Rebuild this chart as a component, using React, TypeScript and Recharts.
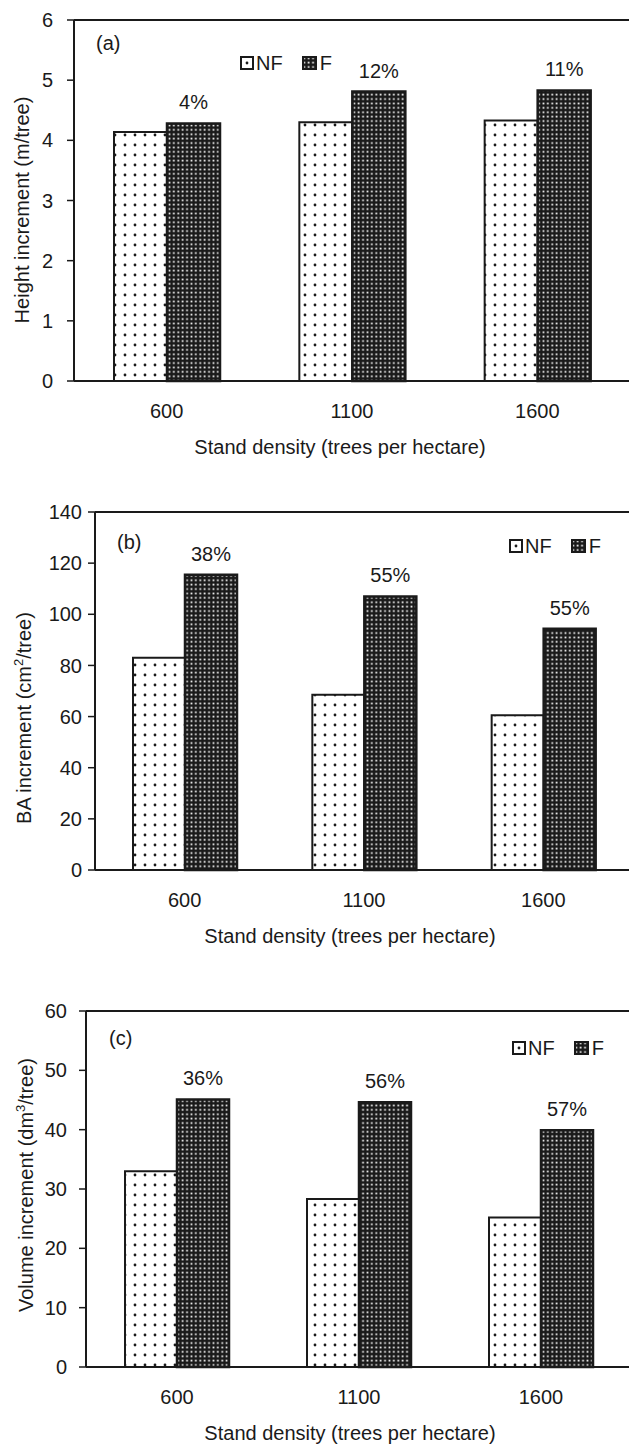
import React from 'react';
import { BarChart, Bar, XAxis, YAxis, ReferenceLine, LabelList } from 'recharts';

const densities = ['600', '1100', '1600'];

// (a) height increment, m/tree
const heightNF = [4.14, 4.3, 4.33];
const heightF = [4.28, 4.81, 4.83];
const heightPct = ['4%', '12%', '11%'];
const heightTicks = [0, 1, 2, 3, 4, 5, 6];

// (b) basal area increment, cm2/tree
const baNF = [83, 68.5, 60.5];
const baF = [115.5, 107, 94.3];
const baPct = ['38%', '55%', '55%'];
const baTicks = [0, 20, 40, 60, 80, 100, 120, 140];

// (c) volume increment, dm3/tree
const volNF = [33, 28.3, 25.2];
const volF = [45.1, 44.6, 39.9];
const volPct = ['36%', '56%', '57%'];
const volTicks = [0, 10, 20, 30, 40, 50, 60];

const FONT = '"Liberation Sans", Arial, sans-serif';
const INK = '#1a1a1a';

const buildRows = (nf: number[], f: number[], pct: string[]) =>
  densities.map((d, i) => ({ density: d, nf: nf[i], f: f[i], pct: pct[i] }));

// hatch patterns used by bars and legend swatches
const PatternDefs = () => (
  <svg width={0} height={0} style={{ position: 'absolute' }}>
    <defs>
      <pattern id="nfDots" width="10" height="10" patternUnits="userSpaceOnUse">
        <rect width="10" height="10" fill="#fff" />
        <circle cx="5" cy="5" r="1.4" fill={INK} />
      </pattern>
      <pattern id="fGrid" width="4.4" height="4.4" patternUnits="userSpaceOnUse">
        <rect width="4.4" height="4.4" fill={INK} />
        <rect x="1.4" y="1.4" width="1.7" height="1.7" fill="#fff" />
      </pattern>
    </defs>
  </svg>
);

const Legend = ({ left, top }: { left: number; top: number }) => (
  <div
    style={{
      position: 'absolute', left, top, display: 'flex', alignItems: 'center',
      fontSize: 20, color: INK, lineHeight: '20px', whiteSpace: 'nowrap',
    }}
  >
    <svg width={14} height={14} style={{ marginRight: 2 }}>
      <rect x={1} y={1} width={12} height={12} fill="#fff" stroke={INK} strokeWidth={2} />
      <circle cx={7} cy={7} r={1.4} fill={INK} />
    </svg>
    <span>NF</span>
    <svg width={15} height={14} style={{ marginLeft: 19, marginRight: 3 }}>
      <rect x={1} y={1} width={13} height={12} fill="url(#fGrid)" stroke={INK} strokeWidth={2} />
    </svg>
    <span>F</span>
  </div>
);

interface PanelProps {
  top: number;
  marginTop: number;
  plotH: number;
  xAxisH: number;
  yAxisW: number;
  marginRight: number;
  barSize: number;
  ticks: number[];
  nf: number[];
  f: number[];
  pct: string[];
  tag: string;
  tagPos: [number, number];
  legendPos: [number, number];
  yTitle: React.ReactNode;
  yTitlePos: [number, number];
  xTitleX: number;
  yTickMargin: number;
}

const Panel = (p: PanelProps) => {
  const rows = buildRows(p.nf, p.f, p.pct);
  const height = p.marginTop + p.plotH + p.xAxisH;
  const max = p.ticks[p.ticks.length - 1];
  const axisY = p.marginTop + p.plotH;

  return (
    <div style={{ position: 'absolute', left: 0, top: p.top, width: 640, height }}>
      <BarChart
        width={640}
        height={height}
        data={rows}
        margin={{ top: p.marginTop, right: p.marginRight, bottom: 0, left: 0 }}
        barGap={0}
        barSize={p.barSize}
      >
        <XAxis
          dataKey="density"
          height={p.xAxisH}
          tickLine={false}
          tickSize={0}
          tickMargin={23}
          axisLine={{ stroke: INK, strokeWidth: 2 }}
          tick={{ fontSize: 20, fill: INK, fontFamily: FONT }}
          label={() => (
            <text x={p.xTitleX} y={axisY + 73} textAnchor="middle" fontSize={20} fill={INK} fontFamily={FONT}>
              Stand density (trees per hectare)
            </text>
          )}
        />
        <YAxis
          width={p.yAxisW}
          domain={[0, max]}
          ticks={p.ticks}
          interval={0}
          tickSize={7}
          tickMargin={p.yTickMargin}
          tickLine={{ stroke: INK, strokeWidth: 1.5 }}
          axisLine={{ stroke: INK, strokeWidth: 2 }}
          tick={{ fontSize: 20, fill: INK, fontFamily: FONT }}
          label={() => (
            <text
              x={p.yTitlePos[0]}
              y={p.yTitlePos[1]}
              transform={`rotate(-90, ${p.yTitlePos[0]}, ${p.yTitlePos[1]})`}
              textAnchor="middle"
              fontSize={20}
              fill={INK}
              fontFamily={FONT}
            >
              {p.yTitle}
            </text>
          )}
        />
        <ReferenceLine y={max} stroke={INK} strokeWidth={2} />
        <Bar dataKey="nf" fill="url(#nfDots)" stroke={INK} strokeWidth={2} isAnimationActive={false} />
        <Bar dataKey="f" fill="url(#fGrid)" stroke={INK} strokeWidth={2.5} isAnimationActive={false}>
          <LabelList dataKey="pct" position="top" offset={14} fontSize={20} fill={INK} fontFamily={FONT} />
        </Bar>
      </BarChart>
      <div
        style={{
          position: 'absolute', left: p.tagPos[0], top: p.tagPos[1] - 11,
          fontSize: 20, lineHeight: '22px', color: INK,
        }}
      >
        {p.tag}
      </div>
      <Legend left={p.legendPos[0]} top={p.legendPos[1] - 10} />
    </div>
  );
};

const App = () => (
  <div
    style={{
      position: 'absolute', left: 0, top: 0, width: 629, height: 1449,
      overflow: 'hidden', background: '#fff', fontFamily: FONT,
    }}
  >
    <PatternDefs />
    <Panel
      top={0}
      marginTop={20}
      plotH={361}
      xAxisH={89}
      yAxisW={74}
      marginRight={10}
      barSize={53}
      ticks={heightTicks}
      nf={heightNF}
      f={heightF}
      pct={heightPct}
      tag="(a)"
      tagPos={[96, 43]}
      legendPos={[240, 63]}
      yTitle="Height increment (m/tree)"
      yTitlePos={[29, 210]}
      xTitleX={340}
      yTickMargin={14}
    />
    <Panel
      top={490}
      marginTop={22}
      plotH={358}
      xAxisH={90}
      yAxisW={95}
      marginRight={7}
      barSize={52}
      ticks={baTicks}
      nf={baNF}
      f={baF}
      pct={baPct}
      tag="(b)"
      tagPos={[117, 52]}
      legendPos={[509, 56]}
      yTitle={
        <>
          BA increment (cm<tspan dy={-8} fontSize={13}>2</tspan>
          <tspan dy={8}>/tree)</tspan>
        </>
      }
      yTitlePos={[31, 228]}
      xTitleX={350}
      yTickMargin={6}
    />
    <Panel
      top={980}
      marginTop={31}
      plotH={356}
      xAxisH={82}
      yAxisW={86}
      marginRight={8}
      barSize={52}
      ticks={volTicks}
      nf={volNF}
      f={volF}
      pct={volPct}
      tag="(c)"
      tagPos={[109, 58]}
      legendPos={[512, 68]}
      yTitle={
        <>
          Volume increment (dm<tspan dy={-8} fontSize={13}>3</tspan>
          <tspan dy={8}>/tree)</tspan>
        </>
      }
      yTitlePos={[33, 205]}
      xTitleX={350}
      yTickMargin={12}
    />
  </div>
);

export default App;
